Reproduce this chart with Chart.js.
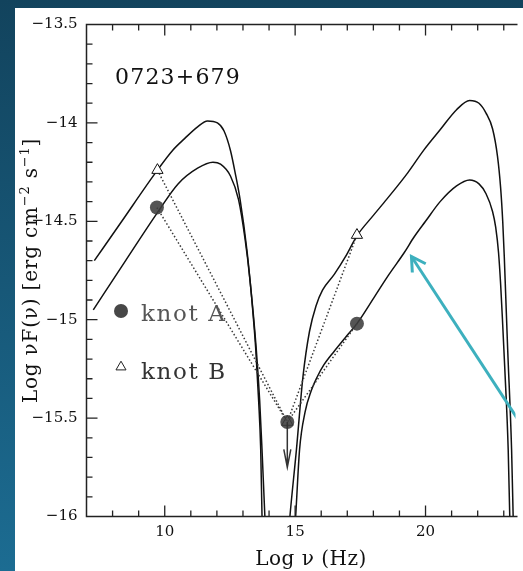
<!DOCTYPE html>
<html>
<head>
<meta charset="utf-8">
<title>0723+679</title>
<script src="https://cdn.jsdelivr.net/npm/chart.js@4.4.1/dist/chart.umd.min.js"></script>
<style>
  html, body { margin: 0; padding: 0; background: #14496a; }
  #wrap { width: 523px; height: 571px; }
</style>
</head>
<body>
<div id="wrap"><canvas id="sedChart" width="523" height="571"></canvas></div>
<script>
// SED model curves, log nu (Hz) against log nuF(nu)
const syncAx = [7.26, 8.50, 9.70, 10.51, 11.26, 11.85, 12.14, 12.52, 12.83, 13.08, 13.27, 13.51, 13.64, 13.73, 13.84, 13.87];
const syncAy = [-14.95, -14.70, -14.46, -14.31, -14.23, -14.20, -14.21, -14.27, -14.39, -14.59, -14.80, -15.15, -15.41, -15.66, -16.00, -16.10];

const syncBx = [7.30, 8.30, 9.72, 10.30, 10.76, 11.26, 11.64, 12.02, 12.27, 12.52, 12.71, 12.89, 13.15, 13.34, 13.49, 13.60, 13.68, 13.73, 13.75];
const syncBy = [-14.70, -14.51, -14.24, -14.14, -14.08, -14.02, -13.99, -14.00, -14.04, -14.14, -14.26, -14.39, -14.645, -14.90, -15.15, -15.41, -15.66, -16.00, -16.10];

const icAx = [14.97, 15.02, 15.17, 15.38, 15.62, 15.85, 16.10, 16.50, 16.93, 17.37, 18.06, 18.60, 19.18, 19.56, 20.00, 20.56, 21.19, 21.69, 22.05, 22.32, 22.57, 22.69, 22.80, 22.88, 22.95, 23.04, 23.17, 23.23, 23.25];
const icAy = [-16.10, -16.00, -15.66, -15.47, -15.36, -15.29, -15.23, -15.16, -15.09, -15.02, -14.88, -14.77, -14.66, -14.58, -14.50, -14.40, -14.32, -14.29, -14.31, -14.36, -14.45, -14.53, -14.66, -14.82, -15.00, -15.25, -15.66, -16.00, -16.10];

const icBx = [14.74, 14.80, 15.05, 15.30, 15.55, 15.80, 16.05, 16.50, 16.93, 17.37, 18.00, 18.50, 19.31, 19.94, 20.56, 21.19, 21.69, 22.05, 22.32, 22.57, 22.76, 22.88, 22.96, 23.02, 23.07, 23.15, 23.30, 23.36, 23.38];
const icBy = [-16.10, -16.00, -15.66, -15.29, -15.06, -14.93, -14.85, -14.77, -14.68, -14.574, -14.47, -14.39, -14.255, -14.137, -14.035, -13.933, -13.886, -13.90, -13.95, -14.03, -14.17, -14.33, -14.50, -14.68, -14.86, -15.15, -15.66, -16.00, -16.10];

// measured fluxes (radio, optical upper limit, X-ray)
const knotAx = [9.70, 14.70, 17.37];
const knotAy = [-14.43, -15.52, -15.02];
const knotBx = [9.72, 14.70, 17.37];
const knotBy = [-14.24, -15.52, -14.57];
const upperLimitEnd = -15.75;

// cyan pointer added on the slide (tip first)
const pointerX = [19.46, 23.60];
const pointerY = [-14.679, -15.518];

const xTickLabels = [10, 15, 20];
const yTickLabels = [-16, -15.5, -15, -14.5, -14, -13.5];

const SERIF = '"DejaVu Serif", "Liberation Serif", serif';

function pts(xs, ys) {
    return xs.map((v, i) => ({ x: v, y: ys[i] }));
}

const curve = {
    type: 'line',
    borderColor: '#111',
    borderWidth: 1.5,
    pointRadius: 0,
    cubicInterpolationMode: 'monotone',
    fill: false,
    order: 4
};

// page background and white panel
const backdrop = {
    id: 'backdrop',
    beforeDraw(chart) {
        const ctx = chart.ctx;
        const g = ctx.createLinearGradient(0, 0, 0, chart.height);
        g.addColorStop(0, '#12435d');
        g.addColorStop(1, '#1c6c92');
        ctx.save();
        ctx.fillStyle = g;
        ctx.fillRect(0, 0, chart.width, chart.height);
        ctx.fillStyle = '#ffffff';
        ctx.fillRect(15, 8, chart.width - 15, chart.height - 8);
        ctx.restore();
    }
};

// box with inward ticks on left, bottom and top
const frame = {
    id: 'frame',
    afterDatasetsDraw(chart) {
        const { ctx, chartArea: a } = chart;
        const x = chart.scales.x, y = chart.scales.y;
        ctx.save();
        ctx.strokeStyle = '#222';
        ctx.lineWidth = 1.5;
        ctx.beginPath();
        ctx.moveTo(a.right + 2, a.top);
        ctx.lineTo(a.left, a.top);
        ctx.lineTo(a.left, a.bottom);
        ctx.lineTo(a.right + 2, a.bottom);
        ctx.stroke();

        ctx.lineWidth = 1.3;
        ctx.beginPath();
        for (let v = Math.ceil(x.min) + 1; v <= x.max; v++) {
            const px = x.getPixelForValue(v);
            const len = xTickLabels.includes(v) ? 11 : 6;
            ctx.moveTo(px, a.bottom);
            ctx.lineTo(px, a.bottom - len);
            ctx.moveTo(px, a.top);
            ctx.lineTo(px, a.top + len);
        }
        for (let k = -159; k <= -136; k++) {
            const py = y.getPixelForValue(k / 10);
            const len = k % 5 === 0 ? 11 : 6;
            ctx.moveTo(a.left, py);
            ctx.lineTo(a.left + len, py);
        }
        ctx.stroke();
        ctx.restore();
    }
};

// arrow heads, legend, labels
const decorations = {
    id: 'decorations',
    afterDraw(chart) {
        const { ctx, chartArea: a } = chart;
        const y = chart.scales.y;
        ctx.save();

        // upper limit arrow on the optical point
        const lim = chart.getDatasetMeta(4).data[1];
        const tipY = y.getPixelForValue(upperLimitEnd);
        ctx.strokeStyle = '#333';
        ctx.lineWidth = 1.5;
        ctx.beginPath();
        ctx.moveTo(lim.x, lim.y);
        ctx.lineTo(lim.x, tipY);
        ctx.moveTo(lim.x - 3.5, tipY - 18);
        ctx.lineTo(lim.x, tipY);
        ctx.lineTo(lim.x + 3.5, tipY - 18);
        ctx.stroke();

        // cyan pointer head
        const pm = chart.getDatasetMeta(6).data;
        const ang = Math.atan2(pm[1].y - pm[0].y, pm[1].x - pm[0].x);
        const spread = 30 * Math.PI / 180;
        ctx.strokeStyle = '#3db0be';
        ctx.lineWidth = 3;
        ctx.beginPath();
        ctx.moveTo(pm[0].x + 16 * Math.cos(ang - spread), pm[0].y + 16 * Math.sin(ang - spread));
        ctx.lineTo(pm[0].x, pm[0].y);
        ctx.lineTo(pm[0].x + 16 * Math.cos(ang + spread), pm[0].y + 16 * Math.sin(ang + spread));
        ctx.stroke();

        // source name
        ctx.fillStyle = '#111';
        ctx.font = '22px ' + SERIF;
        ctx.textAlign = 'left';
        ctx.textBaseline = 'alphabetic';
        ctx.letterSpacing = '1.2px';
        ctx.fillText('0723+679', 115, 84);

        // legend
        ctx.fillStyle = '#474747';
        ctx.beginPath();
        ctx.arc(121, 311, 7, 0, Math.PI * 2);
        ctx.fill();
        ctx.strokeStyle = '#222';
        ctx.lineWidth = 1;
        ctx.beginPath();
        const r = 5.8, tx = 121, ty = 367;
        ctx.moveTo(tx, ty - r);
        ctx.lineTo(tx + r * 0.866, ty + r * 0.5);
        ctx.lineTo(tx - r * 0.866, ty + r * 0.5);
        ctx.closePath();
        ctx.stroke();
        ctx.font = '23px ' + SERIF;
        ctx.letterSpacing = '1.6px';
        ctx.fillStyle = '#555';
        ctx.fillText('knot A', 141, 321);
        ctx.fillStyle = '#333';
        ctx.fillText('knot B', 141, 379);

        // x title
        ctx.fillStyle = '#111';
        ctx.font = '20px ' + SERIF;
        ctx.letterSpacing = '0.5px';
        ctx.textAlign = 'center';
        ctx.fillText('Log \u03bd (Hz)', 311, 565);

        // y title with superscripts
        const parts = [
            ['Log \u03bdF(\u03bd) [erg cm', false],
            ['\u22122', true],
            [' s', false],
            ['\u22121', true],
            [']', false]
        ];
        ctx.textAlign = 'left';
        ctx.letterSpacing = '0.8px';
        let total = 0;
        parts.forEach(p => {
            ctx.font = (p[1] ? '13px ' : '20px ') + SERIF;
            total += ctx.measureText(p[0]).width;
        });
        ctx.translate(37, (a.top + a.bottom) / 2);
        ctx.rotate(-Math.PI / 2);
        let cx = -total / 2;
        parts.forEach(p => {
            ctx.font = (p[1] ? '13px ' : '20px ') + SERIF;
            ctx.fillText(p[0], cx, p[1] ? -8 : 0);
            cx += ctx.measureText(p[0]).width;
        });
        ctx.restore();
    }
};

new Chart(document.getElementById('sedChart'), {
    type: 'line',
    data: {
        datasets: [
            { ...curve, label: 'knot A synchrotron', data: pts(syncAx, syncAy) },
            { ...curve, label: 'knot B synchrotron', data: pts(syncBx, syncBy) },
            { ...curve, label: 'knot A inverse Compton', data: pts(icAx, icAy) },
            { ...curve, label: 'knot B inverse Compton', data: pts(icBx, icBy) },
            {
                type: 'line',
                label: 'knot A',
                data: pts(knotAx, knotAy),
                borderColor: '#3a3a3a',
                borderWidth: 1.5,
                borderDash: [1.5, 2.2],
                tension: 0,
                pointStyle: 'circle',
                pointRadius: 7,
                pointBackgroundColor: 'rgba(60, 60, 60, 0.88)',
                pointBorderWidth: 0,
                order: 1
            },
            {
                type: 'line',
                label: 'knot B',
                data: pts(knotBx, knotBy),
                borderColor: '#3a3a3a',
                borderWidth: 1.5,
                borderDash: [1.5, 2.2],
                tension: 0,
                pointStyle: 'triangle',
                pointRadius: 6.5,
                pointBackgroundColor: '#ffffff',
                pointBorderColor: '#111',
                pointBorderWidth: 1,
                order: 2
            },
            {
                type: 'line',
                label: 'pointer',
                data: pts(pointerX, pointerY),
                borderColor: '#3db0be',
                borderWidth: 3,
                pointRadius: 0,
                tension: 0,
                order: 0
            }
        ]
    },
    options: {
        responsive: false,
        devicePixelRatio: 1,
        animation: false,
        layout: {
            padding: { left: 15, top: 24.5, right: 0, bottom: 0 }
        },
        plugins: {
            legend: { display: false },
            tooltip: { enabled: false }
        },
        scales: {
            x: {
                type: 'linear',
                min: 7,
                max: 23.45,
                afterFit: function(scale) { scale.height = 54.5; },
                afterBuildTicks: function(scale) {
                    scale.ticks = xTickLabels.map(v => ({ value: v }));
                },
                grid: { display: false, drawTicks: false },
                border: { display: false },
                ticks: {
                    color: '#111',
                    font: { family: SERIF, size: 15 },
                    padding: 7,
                    maxRotation: 0,
                    autoSkip: false
                }
            },
            y: {
                type: 'linear',
                min: -16,
                max: -13.5,
                afterFit: function(scale) { scale.width = 71.5; },
                afterBuildTicks: function(scale) {
                    scale.ticks = yTickLabels.map(v => ({ value: v }));
                },
                grid: { display: false, drawTicks: false },
                border: { display: false },
                ticks: {
                    color: '#111',
                    font: { family: SERIF, size: 15 },
                    padding: 9,
                    autoSkip: false,
                    callback: function(value) {
                        return (value < 0 ? '\u2212' : '') + Math.abs(value);
                    }
                }
            }
        }
    },
    plugins: [backdrop, frame, decorations]
});
</script>
</body>
</html>
